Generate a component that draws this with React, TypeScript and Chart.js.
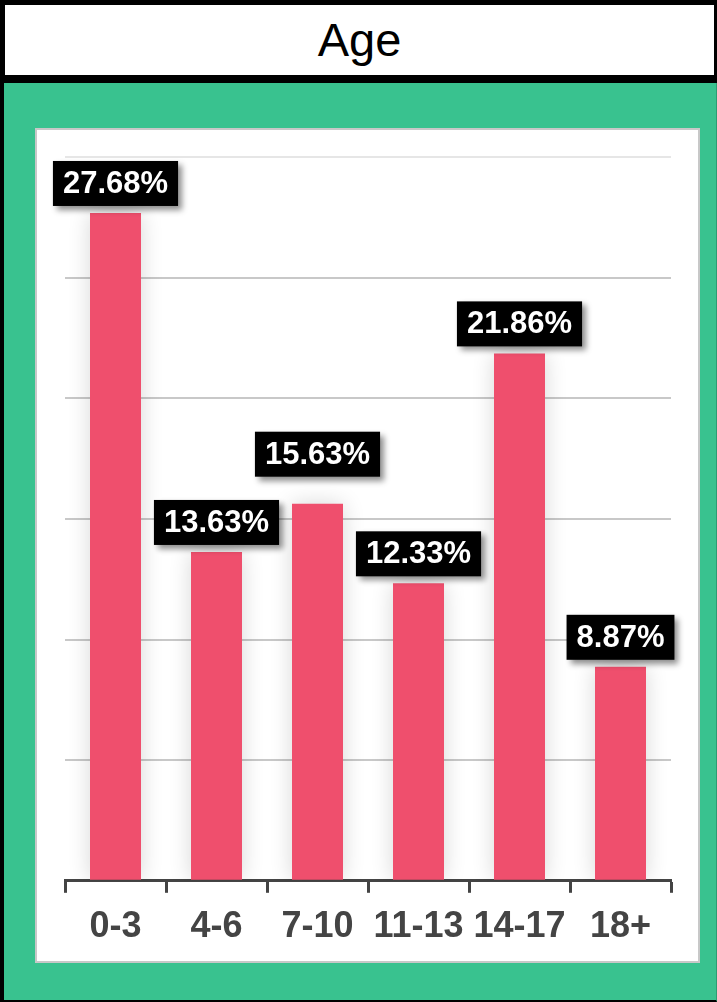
import React, { useEffect, useRef } from 'react';
import { Chart, registerables, Plugin } from 'chart.js';

Chart.register(...registerables);

const ageGroups = ['0-3', '4-6', '7-10', '11-13', '14-17', '18+'];
const sharePercent = [27.68, 13.63, 15.63, 12.33, 21.86, 8.87];
const yMax = 30;
const yStep = 5;

const FONT = '"Liberation Sans", Arial, Helvetica, sans-serif';

// soft grey glow around the bars
const barShadow: Plugin<'bar'> = {
  id: 'barShadow',
  beforeDatasetDraw(chart) {
    const ctx = chart.ctx;
    ctx.save();
    ctx.shadowColor = 'rgba(0,0,0,0.16)';
    ctx.shadowBlur = 22;
    ctx.shadowOffsetX = 0;
    ctx.shadowOffsetY = 0;
  },
  afterDatasetDraw(chart) {
    chart.ctx.restore();
  },
};

// black value boxes above bars, pushed up when they crowd a neighbour
const valueBoxes: Plugin<'bar'> = {
  id: 'valueBoxes',
  afterDatasetsDraw(chart) {
    const ctx = chart.ctx;
    const meta = chart.getDatasetMeta(0);
    const values = chart.data.datasets[0].data as number[];
    const padX = 10;
    const boxH = 45;
    const gap = 7;
    const margin = 8;
    const placed: { x1: number; x2: number; y1: number; y2: number }[] = [];

    ctx.save();
    ctx.font = `bold 31px ${FONT}`;
    meta.data.forEach((bar: any, i) => {
      const text = values[i].toFixed(2) + '%';
      const w = ctx.measureText(text).width + padX * 2;
      const box = { x1: bar.x - w / 2, x2: bar.x + w / 2, y1: bar.y - gap - boxH, y2: bar.y - gap };
      const hits = () =>
        placed.some(
          (p) =>
            box.x1 < p.x2 + margin &&
            box.x2 + margin > p.x1 &&
            box.y1 < p.y2 + margin &&
            box.y2 + margin > p.y1
        );
      let guard = 0;
      while (hits() && guard < 20) {
        box.y1 -= 20;
        box.y2 -= 20;
        guard++;
      }
      placed.push(box);

      ctx.save();
      ctx.shadowColor = 'rgba(0,0,0,0.45)';
      ctx.shadowBlur = 6;
      ctx.shadowOffsetX = 4;
      ctx.shadowOffsetY = 4;
      ctx.fillStyle = '#000';
      ctx.fillRect(box.x1, box.y1, w, boxH);
      ctx.restore();

      ctx.fillStyle = '#fff';
      ctx.textAlign = 'center';
      ctx.textBaseline = 'middle';
      ctx.fillText(text, bar.x, (box.y1 + box.y2) / 2 + 1);
    });
    ctx.restore();
  },
};

const AgeChart: React.FC = () => {
  const canvasRef = useRef<HTMLCanvasElement | null>(null);
  const chartRef = useRef<Chart | null>(null);

  useEffect(() => {
    if (!canvasRef.current) return;

    chartRef.current = new Chart(canvasRef.current, {
      type: 'bar',
      data: {
        labels: ageGroups,
        datasets: [
          {
            data: sharePercent,
            backgroundColor: '#ef4f6d',
            borderWidth: 0,
            barPercentage: 0.505,
            categoryPercentage: 1,
          },
        ],
      },
      options: {
        responsive: false,
        animation: false,
        devicePixelRatio: 1,
        layout: { padding: { left: 28, right: 27, top: 27, bottom: 0 } },
        plugins: {
          legend: { display: false },
          tooltip: { enabled: false },
          title: { display: false },
        },
        scales: {
          x: {
            grid: {
              drawOnChartArea: false,
              drawTicks: true,
              tickLength: 12,
              tickColor: '#444',
              tickWidth: 3,
            },
            border: { color: '#444', width: 3 },
            ticks: {
              color: '#444',
              padding: 12.5,
              font: { family: FONT, size: 36, weight: 'bold' },
            },
          },
          y: {
            min: 0,
            max: yMax,
            ticks: { display: false, stepSize: yStep },
            border: { display: false },
            grid: {
              drawTicks: false,
              lineWidth: 2,
              color: (c: any) => (c.tick && c.tick.value === yMax ? '#e6e6e6' : '#c8c8c8'),
            },
          },
        },
      },
      plugins: [barShadow, valueBoxes],
    });

    return () => {
      if (chartRef.current) {
        chartRef.current.destroy();
        chartRef.current = null;
      }
    };
  }, []);

  return <canvas ref={canvasRef} width={661} height={831} style={{ display: 'block' }} />;
};

const App: React.FC = () => {
  return (
    <div style={{ position: 'absolute', left: 0, top: 0, width: 717, height: 1002, fontFamily: FONT }}>
      <div
        style={{
          position: 'absolute',
          left: 0,
          top: 0,
          width: 717,
          height: 83,
          boxSizing: 'border-box',
          background: '#fff',
          borderStyle: 'solid',
          borderColor: '#000',
          borderWidth: '5px 3px 8px 5px',
          textAlign: 'center',
          fontSize: 47,
          lineHeight: '70px',
          color: '#000',
        }}
      >
        Age
      </div>
      <div
        style={{
          position: 'absolute',
          left: 0,
          top: 83,
          width: 717,
          height: 919,
          boxSizing: 'border-box',
          background: '#39c28f',
          borderLeft: '4px solid #000',
          borderBottom: '2px solid #000',
          borderRight: '1px solid #2b9c72',
        }}
      />
      <div
        style={{
          position: 'absolute',
          left: 35,
          top: 128,
          width: 665,
          height: 835,
          boxSizing: 'border-box',
          background: '#fff',
          border: '2px solid #c8c8c8',
        }}
      >
        <AgeChart />
      </div>
    </div>
  );
};

export default App;
